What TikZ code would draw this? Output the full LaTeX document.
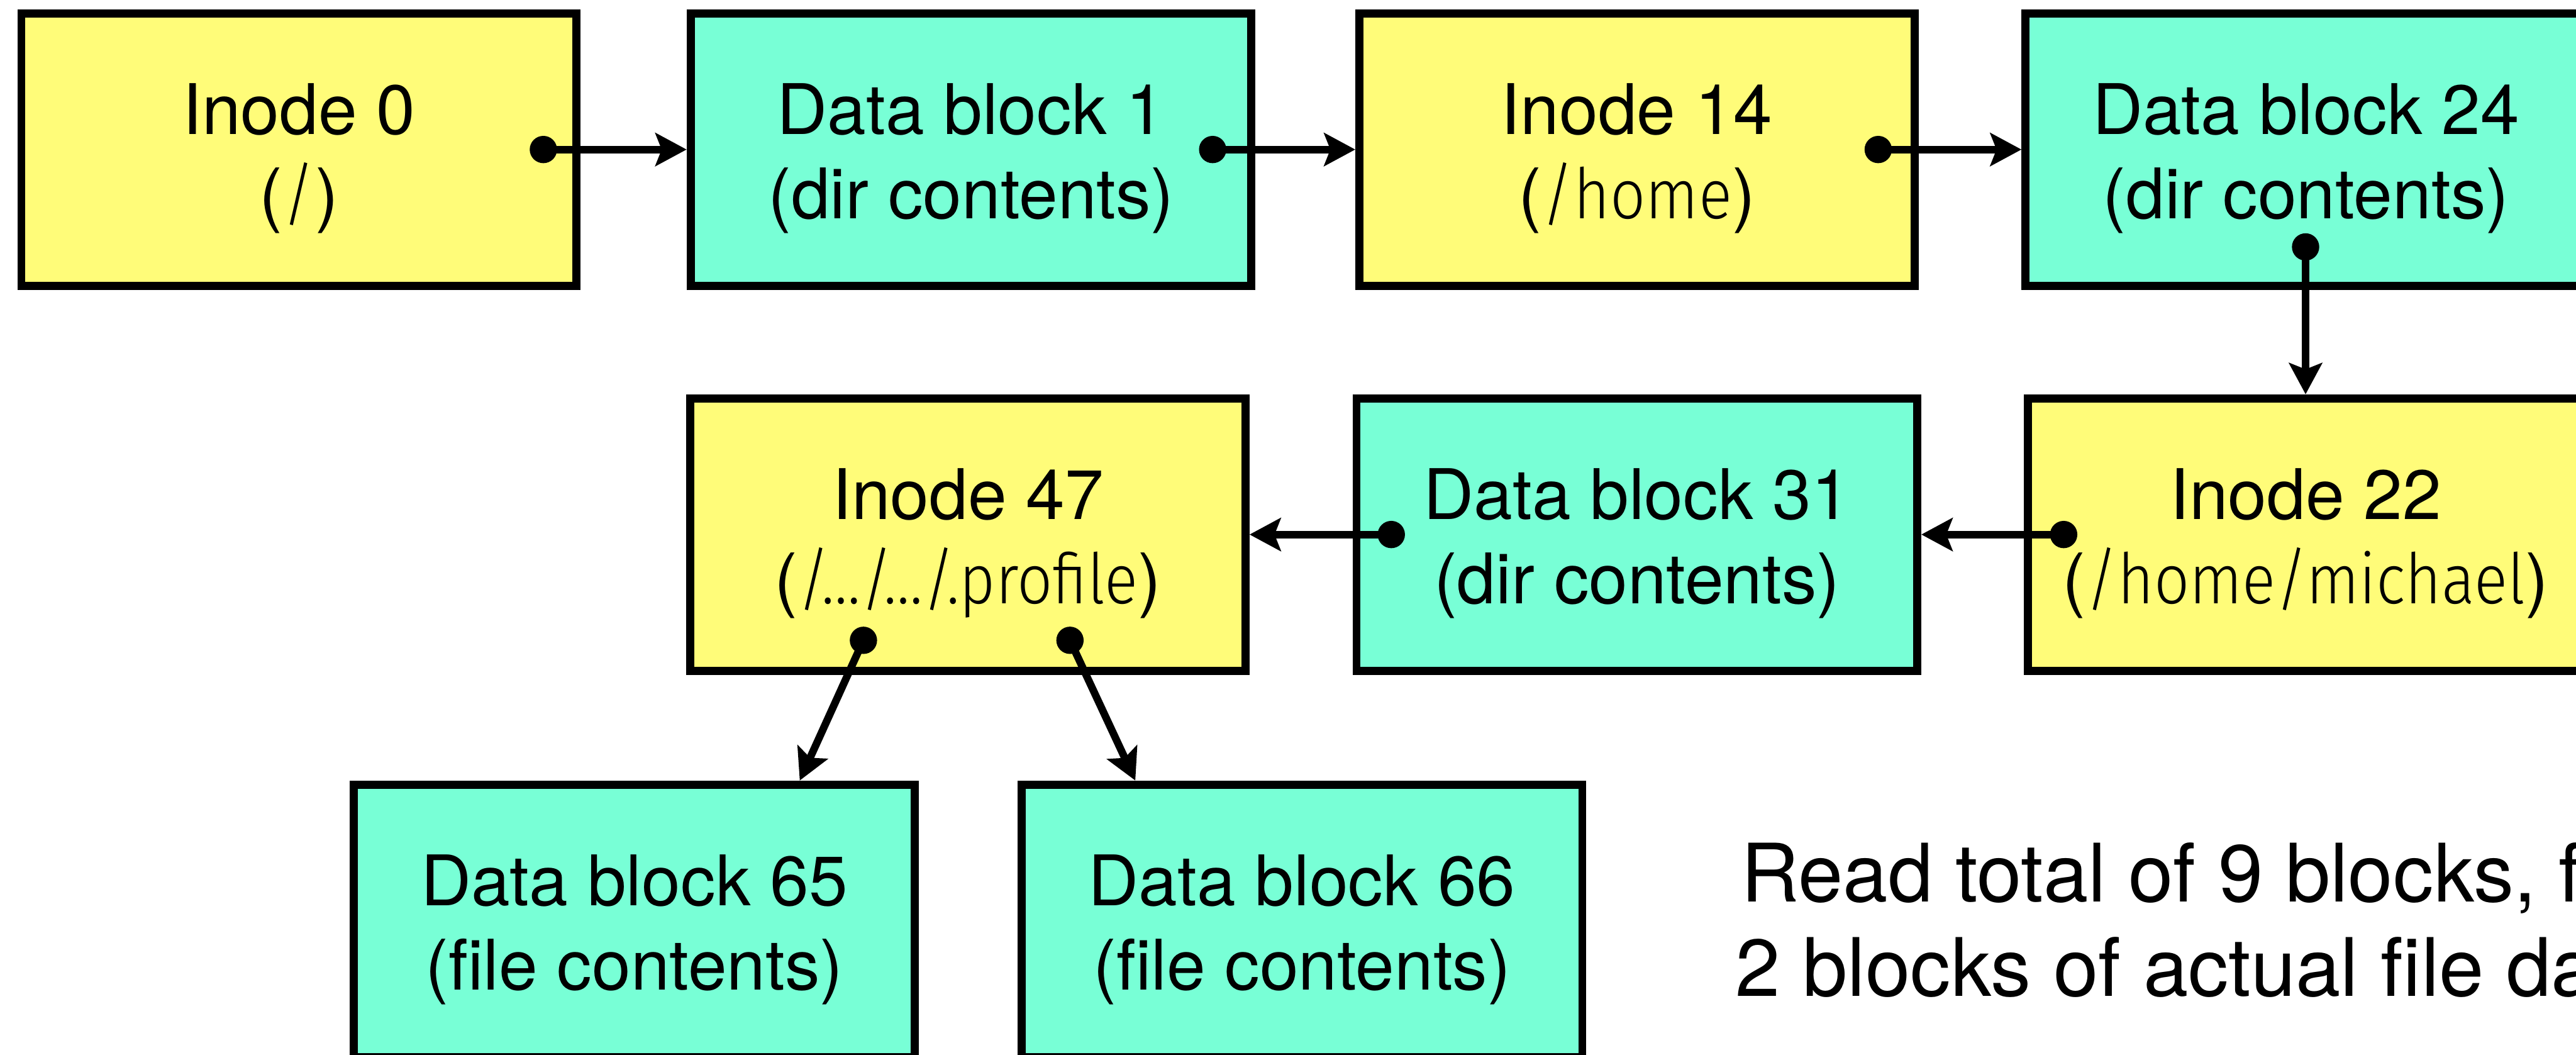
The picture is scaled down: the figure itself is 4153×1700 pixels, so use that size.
\documentclass[tikz,border=0pt]{standalone}
\usepackage{fontspec}
\setmainfont{TeX Gyre Heros}
\newfontfamily\lightfont[FakeStretch=0.89]{Fira Sans Light}
\usetikzlibrary{arrows.meta,calc}
% one drawing unit = one pixel of the 4153 x 1700 layout
\def\px{0.28453pt}
\definecolor{inodefill}{HTML}{FFFC79}
\definecolor{blockfill}{HTML}{78FFD6}
\newcommand\pathname[1]{({\lightfont #1})}
\tikzset{
  box/.style={draw=black, line width=3.70pt, minimum height=124.91pt,
    inner sep=0pt, align=center, font=\fontsize{32}{38.7}\selectfont,
    text height=69.7pt, text depth=6.5pt},
  inodebox/.style={box, fill=inodefill, minimum width=254.65pt},
  blockbox/.style={box, fill=blockfill, minimum width=257.22pt},
  dot/.style={circle, fill=black, inner sep=0pt, minimum size=12.52pt},
  link/.style={line width=3.45pt, -{Stealth[length=14.3pt, width=15.08pt, inset=2.85pt]}},
  note/.style={anchor=base west, inner sep=0pt, font=\fontsize{37}{43.5}\selectfont},
}
\begin{document}
\begin{tikzpicture}[x=\px, y=-\px]
  \useasboundingbox (0,0) rectangle (4153,1700);
  \clip (0,0) rectangle (4153,1700);

  % first row
  \node[inodebox] (in0)  at (482,241)    {Inode 0\\\pathname{/}};
  \node[blockbox] (db1)  at (1565.5,241) {Data block 1\\(dir contents)};
  \node[inodebox] (in14) at (2639,241)   {Inode 14\\\pathname{/home}};
  \node[blockbox] (db24) at (3717.5,241) {Data block 24\\(dir contents)};

  % second row
  \node[inodebox] (in47) at (1560.5,861.5) {Inode 47\\\pathname{/…/…/.profile}};
  \node[blockbox] (db31) at (2639,861.5)   {Data block 31\\(dir contents)};
  \node[inodebox] (in22) at (3717,861.5)   {Inode 22\\\pathname{/home/michael}};

  % file data blocks
  \node[blockbox] (db65) at (1022.5,1484) {Data block 65\\(file contents)};
  \node[blockbox] (db66) at (2099,1484)   {Data block 66\\(file contents)};

  % pointer origins
  \node[dot] (p0) at (876,241) {};
  \node[dot] (p1) at (1955,241) {};
  \node[dot] (p2) at (3028,241) {};
  \node[dot] (p3) at (3717,398) {};
  \node[dot] (p4) at (3327,861.5) {};
  \node[dot] (p5) at (2243,861.5) {};
  \node[dot] (p6) at (1392,1032) {};
  \node[dot] (p7) at (1725,1032) {};

  % pointers
  \draw[link] (p0.center) -- (db1.west);
  \draw[link] (p1.center) -- (in14.west);
  \draw[link] (p2.center) -- (db24.west);
  \draw[link] (p3.center) -- (p3.center |- in22.north);
  \draw[link] (p4.center) -- (db31.east);
  \draw[link] (p5.center) -- (in47.east);
  \draw[link] (p6.center) -- ($(db65.north west)!0.791!(db65.north east)$);
  \draw[link] (p7.center) -- ($(db66.north west)!0.207!(db66.north east)$);

  % summary
  \node[note] (n1) at (2806,1453) {Read total of 9 blocks, f};
  \node[note] (n2) at (2797,1606) {2 blocks of actual file da};
\end{tikzpicture}
\end{document}
